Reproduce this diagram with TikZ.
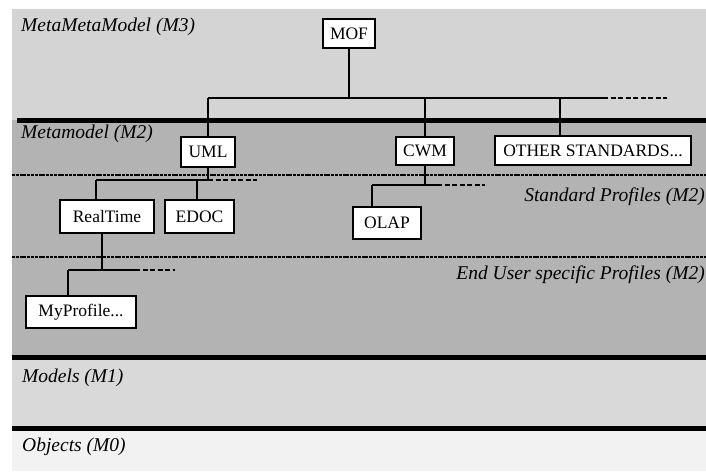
\documentclass[tikz,border=0pt]{standalone}
\usepackage{fontspec}
\setmainfont{Liberation Serif}
\begin{document}
\begin{tikzpicture}[x=1pt,y=-1pt,
  box/.style={draw=black,line width=2.4pt,fill=white,inner sep=0pt,font=\fontsize{17.5}{17.5}\selectfont},
  tree/.style={line width=2.4pt},
  thin/.style={line width=1.4pt},
  ext/.style={line width=2pt,dash pattern=on 5pt off 2.5pt},
  dots/.style={line width=2pt,dash pattern=on 3pt off 0.8pt},
  sep/.style={line width=5pt},
  lab/.style={anchor=west,inner sep=0pt,font=\fontsize{19.5}{19.5}\selectfont\itshape}]
\useasboundingbox (0,0) rectangle (706,471);
\fill[white] (0,0) rectangle (706,471);
% layers
\fill[fill={rgb,255:red,212;green,212;blue,212}] (12,9) rectangle (706,120);
\fill[fill={rgb,255:red,179;green,179;blue,179}] (12,120) rectangle (706,357);
\fill[fill={rgb,255:red,217;green,217;blue,217}] (12,357) rectangle (706,428);
\fill[fill={rgb,255:red,242;green,242;blue,242}] (12,428) rectangle (706,471);
\draw[sep] (17,120) -- (706,120);
\draw[sep] (12,357) -- (706,357);
\draw[sep] (12,428) -- (706,428);
\draw[dots] (12,175) -- (706,175);
\draw[dots] (12,257) -- (706,257);
% labels
\node[lab] (l3) at (21,27) {MetaMetaModel (M3)};
\node[lab] (l2) at (21,134) {Metamodel (M2)};
\node[lab,anchor=east] (lsp) at (705,197) {Standard Profiles (M2)};
\node[lab,anchor=east] (leu) at (705,275) {End User specific Profiles (M2)};
\node[lab] (l1) at (22,378) {Models (M1)};
\node[lab] (l0) at (22,447) {Objects (M0)};
% nodes
\node[box,minimum width=52pt,minimum height=29pt] (mof) at (349,33.5) {MOF};
\node[box,minimum width=54pt,minimum height=30pt] (uml) at (208,152) {UML};
\node[box,minimum width=58pt,minimum height=28pt] (cwm) at (425,151) {CWM};
\node[box,minimum width=196pt,minimum height=29pt] (other) at (593,150.5) {OTHER STANDARDS...};
\node[box,minimum width=94pt,minimum height=33pt] (rt) at (107,216.5) {RealTime};
\node[box,minimum width=69pt,minimum height=33pt] (edoc) at (199.5,216.5) {EDOC};
\node[box,minimum width=68pt,minimum height=32pt] (olap) at (387,223) {OLAP};
\node[box,minimum width=110pt,minimum height=32pt] (myp) at (81,312) {MyProfile...};
% junctions
\coordinate (j0) at (349,98);
\coordinate (hL) at (208,98);
\coordinate (hC) at (425,98);
\coordinate (hO) at (560,98);
\coordinate (hR) at (603,98);
\coordinate (hD) at (667,98);
\coordinate (ju) at (208,180);
\coordinate (juL) at (96,180);
\coordinate (juE) at (197,180);
\coordinate (juD) at (257,180);
\coordinate (jr) at (102,270);
\coordinate (jrL) at (68,270);
\coordinate (jrR) at (135,270);
\coordinate (jrD) at (175,270);
\coordinate (jc) at (425,185);
\coordinate (jcL) at (372,185);
\coordinate (jcR) at (437,185);
\coordinate (jcD) at (485,185);
% connectors
\draw[tree] (mof.south) -- (j0);
\draw[line width=1.8pt] (hL) -- (hR);
\draw[ext] (hR) -- (hD);
\draw[tree] (hL) -- (uml.north);
\draw[tree] (hC) -- (cwm.north);
\draw[thin] (hO) -- (hO |- other.north);
\draw[tree] (uml.south) -- (ju);
\draw[tree] (juL) -- (ju);
\draw[ext] (ju) -- (juD);
\draw[tree] (juL) -- (juL |- rt.north);
\draw[thin] (juE) -- (juE |- edoc.north);
\draw[tree] (rt.south -| jr) -- (jr);
\draw[tree] (jrL) -- (jrR);
\draw[ext] (jrR) -- (jrD);
\draw[tree] (jrL) -- (jrL |- myp.north);
\draw[tree] (cwm.south) -- (jc);
\draw[tree] (jcL) -- (jcR);
\draw[ext] (jcR) -- (jcD);
\draw[tree] (jcL) -- (jcL |- olap.north);
\end{tikzpicture}
\end{document}
